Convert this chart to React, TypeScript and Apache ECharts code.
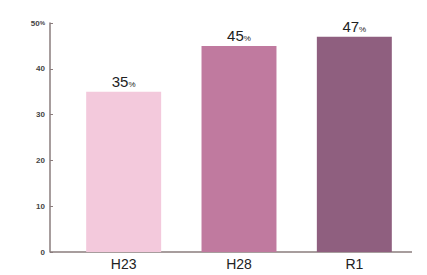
import React, { useEffect, useRef } from "react";
import * as echarts from "echarts";

const categories = ["H23", "H28", "R1"];
const values = [35, 45, 47];
const barColors = ["#f3c9dc", "#c07a9f", "#8f5f7f"];
const yTicks = [0, 10, 20, 30, 40, 50];

export default function App() {
  const ref = useRef<HTMLDivElement>(null);
  useEffect(() => {
    const chart = echarts.init(ref.current!, null, { renderer: "svg" });
    chart.setOption({
      animation: false,
      backgroundColor: "#ffffff",
      grid: { left: 66, right: 15, top: 23, bottom: 23 },
      xAxis: {
        type: "category",
        data: categories,
        axisLine: { show: false },
        axisTick: { show: false },
        axisLabel: { color: "#222", fontSize: 14, margin: 5, fontFamily: "Liberation Sans" },
      },
      yAxis: {
        type: "value",
        min: yTicks[0],
        max: yTicks[yTicks.length - 1],
        interval: 10,
        offset: 16,
        axisLine: { show: true, lineStyle: { color: "#8a7c7c", width: 1.5 } },
        axisTick: { show: true, length: 3, inside: true, lineStyle: { color: "#8a7c7c" } },
        splitLine: { show: false },
        axisLabel: {
          color: "#444",
          fontSize: 8,
          fontWeight: "bold",
          margin: 5,
          fontFamily: "Liberation Sans",
          formatter: (v: number) => (v === 50 ? "{n|50}{p|%}" : String(v)),
          rich: {
            n: { fontSize: 8, color: "#444", fontWeight: "bold" },
            p: { fontSize: 6, color: "#444", fontWeight: "bold" },
          },
        },
      },
      graphic: [
        {
          type: "line",
          shape: { x1: 50, y1: 252, x2: 412, y2: 252 },
          style: { stroke: "#8a7c7c", lineWidth: 1.5 },
        },
      ],
      series: [
        {
          type: "bar",
          barCategoryGap: "35%",
          data: values.map((v, i) => ({ value: v, itemStyle: { color: barColors[i] } })),
          label: {
            show: true,
            position: "top",
            distance: 3,
            formatter: (p: any) => `{n|${p.value}}{p|%}`,
            rich: {
              n: { fontSize: 15, color: "#222", fontFamily: "Liberation Sans" },
              p: { fontSize: 8, color: "#222", fontFamily: "Liberation Sans", verticalAlign: "bottom" },
            },
          },
        },
      ],
    });
    return () => chart.dispose();
  }, []);
  return <div ref={ref} style={{ width: 427, height: 275, position: "absolute", left: 0, top: 0 }} />;
}
